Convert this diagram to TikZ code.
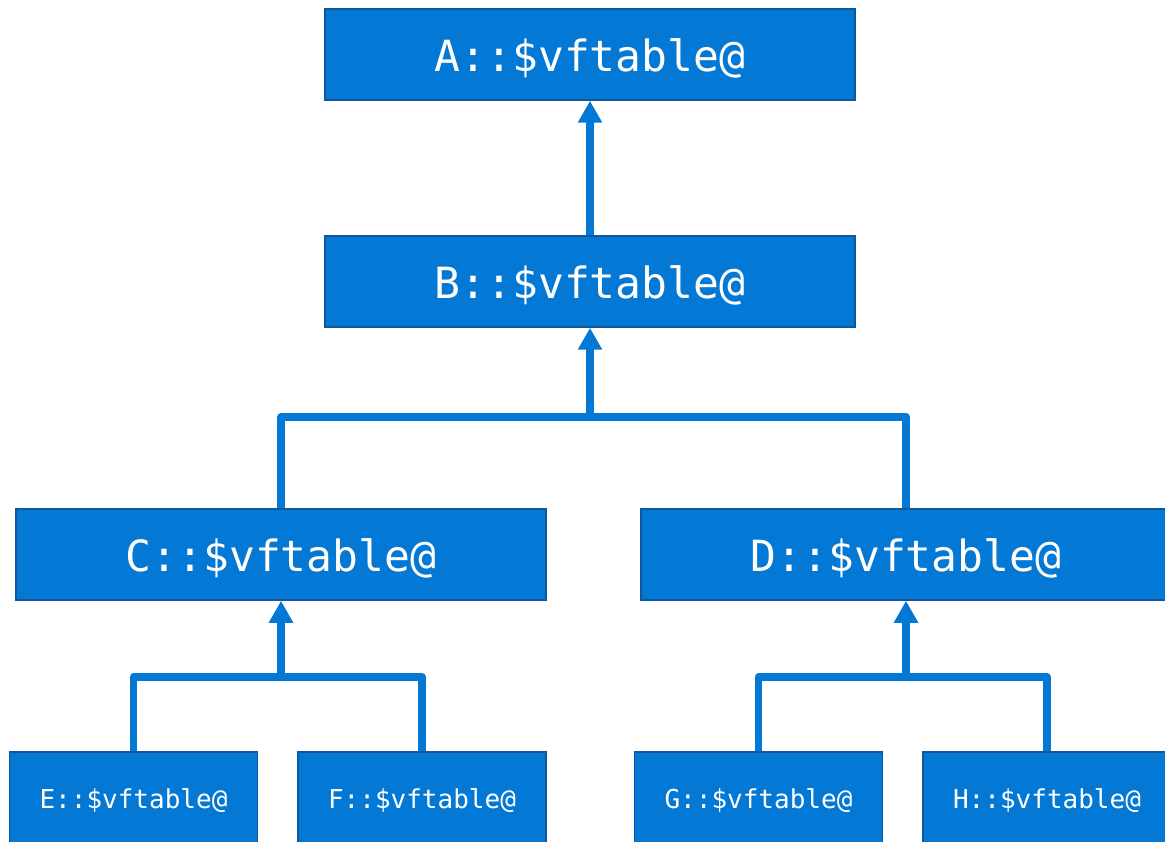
\documentclass[tikz,border=0pt]{standalone}
\usepackage{fontspec}
\newfontfamily\codefont{DejaVu Sans Mono}
\usetikzlibrary{arrows.meta}
\definecolor{boxfill}{RGB}{3,120,212}
\definecolor{boxline}{RGB}{14,88,155}
\definecolor{connblue}{RGB}{3,120,212}
\tikzset{
  bigbox/.style={draw=boxline, line width=1.5pt, fill=boxfill, text=white,
    minimum width=530pt, minimum height=91pt, inner sep=0pt,
    text height=36pt, text depth=1.6pt,
    font=\codefont\fontsize{43}{50}\selectfont},
  smallbox/.style={draw=boxline, line width=1.5pt, fill=boxfill, text=white,
    minimum width=248pt, minimum height=91pt, inner sep=0pt,
    text height=22pt, text depth=1pt,
    font=\codefont\fontsize{26}{31}\selectfont},
  conn/.style={draw=connblue, line width=7.5pt, line join=round},
  arrowconn/.style={conn, -{Triangle[length=22pt, width=23pt]}}
}
\begin{document}
\begin{tikzpicture}[x=1pt, y=-1pt]
\useasboundingbox (0,0) rectangle (1165,842);
\clip (0,0) rectangle (1165,842);
\node[bigbox] (A) at (590,54.5) {A::\$vftable@};
\node[bigbox] (B) at (590,281.5) {B::\$vftable@};
\node[bigbox] (C) at (281,554.5) {C::\$vftable@};
\node[bigbox] (D) at (906,554.5) {D::\$vftable@};
\node[smallbox] (E) at (133.5,797.5) {E::\$vftable@};
\node[smallbox] (F) at (422,797.5) {F::\$vftable@};
\node[smallbox] (G) at (758.5,797.5) {G::\$vftable@};
\node[smallbox] (H) at (1047,797.5) {H::\$vftable@};
\coordinate (jB) at (590,417);
\coordinate (jC) at (281,677);
\coordinate (jD) at (906,677);
\draw[arrowconn] (B.north) -- (A.south);
\draw[conn] (C.north) |- (jB);
\draw[conn] (D.north) |- (jB);
\draw[arrowconn] (jB) -- (B.south);
\draw[conn] (E.north) |- (jC);
\draw[conn] (F.north) |- (jC);
\draw[arrowconn] (jC) -- (C.south);
\draw[conn] (G.north) |- (jD);
\draw[conn] (H.north) |- (jD);
\draw[arrowconn] (jD) -- (D.south);
\end{tikzpicture}
\end{document}
